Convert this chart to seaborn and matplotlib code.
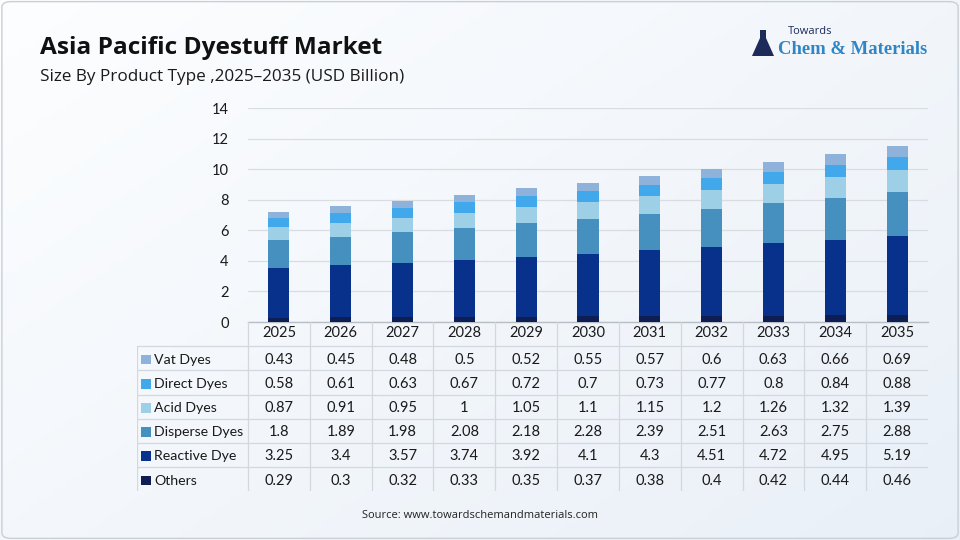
import numpy as np
import pandas as pd
import matplotlib
matplotlib.use("Agg")
import matplotlib.pyplot as plt
import seaborn as sns
from matplotlib.patches import Rectangle, FancyBboxPatch, Polygon

years = ["2025", "2026", "2027", "2028", "2029", "2030", "2031", "2032", "2033", "2034", "2035"]
others = [0.29, 0.3, 0.32, 0.33, 0.35, 0.37, 0.38, 0.4, 0.42, 0.44, 0.46]
reactive = [3.25, 3.4, 3.57, 3.74, 3.92, 4.1, 4.3, 4.51, 4.72, 4.95, 5.19]
disperse = [1.8, 1.89, 1.98, 2.08, 2.18, 2.28, 2.39, 2.51, 2.63, 2.75, 2.88]
acid = [0.87, 0.91, 0.95, 1, 1.05, 1.1, 1.15, 1.2, 1.26, 1.32, 1.39]
direct = [0.58, 0.61, 0.63, 0.67, 0.72, 0.7, 0.73, 0.77, 0.8, 0.84, 0.88]
vat = [0.43, 0.45, 0.48, 0.5, 0.52, 0.55, 0.57, 0.6, 0.63, 0.66, 0.69]

# stacking order, bottom to top
series = ["Others", "Reactive Dye", "Disperse Dyes", "Acid Dyes", "Direct Dyes", "Vat Dyes"]
values = [others, reactive, disperse, acid, direct, vat]
colors = ["#0e1d52", "#07318a", "#4690bf", "#9dd0e7", "#41a8ec", "#8fb2da"]

df = pd.DataFrame({"year": years})
for name, vals in zip(series, values):
    df[name] = vals

W, H = 960, 540
sns.set_theme(style="white")
plt.rcParams["font.family"] = ["Lato", "DejaVu Sans"]

fig = plt.figure(figsize=(W / 100, H / 100), dpi=100)

# soft background gradient
bg = fig.add_axes([0, 0, 1, 1], zorder=-10)
gx = np.linspace(0, 1, 200)
gy = np.linspace(0, 1, 120)
GX, GY = np.meshgrid(gx, gy)
t = np.clip(0.55 * GX + 0.45 * GY, 0, 1)
c0 = np.array([0.99, 0.995, 1.0])
c1 = np.array([0.915, 0.94, 0.97])
img = c0[None, None, :] * (1 - t[..., None]) + c1[None, None, :] * t[..., None]
bg.imshow(img, extent=[0, 1, 0, 1], aspect="auto", origin="upper")
bg.add_patch(FancyBboxPatch((0.002, 0.003), 0.996, 0.994, boxstyle="round,pad=0,rounding_size=0.01",
                            fill=False, ec="#c9cfd6", lw=1.0, transform=bg.transAxes))
bg.set_xlim(0, 1)
bg.set_ylim(0, 1)
bg.axis("off")

# bar chart area
x0, x1 = 248, 928
y_top, y_base = 108, 322
ax = fig.add_axes([x0 / W, 1 - y_base / H, (x1 - x0) / W, (y_base - y_top) / H])
ax.set_facecolor("none")
bottom = np.zeros(len(years))
for name, col in zip(series, colors):
    sns.barplot(data=df, x="year", y=name, order=years, color=col, width=0.34,
                bottom=bottom, ax=ax, saturation=1, linewidth=0, zorder=3)
    bottom = bottom + df[name].to_numpy()

ax.set_xlim(-0.5, len(years) - 0.5)
ax.set_ylim(0, 14)
ax.set_yticks(range(0, 15, 2))
ax.yaxis.grid(True, color="#d9dde2", lw=0.9, zorder=0)
ax.set_axisbelow(True)
ax.set_xlabel("")
ax.set_ylabel("")
ax.set_xticklabels([])
ax.tick_params(axis="x", length=0)
ax.tick_params(axis="y", length=0, labelsize=10.5, colors="#1a1a1a", pad=14)
for s in ["top", "right", "left"]:
    ax.spines[s].set_visible(False)
ax.spines["bottom"].set_color("#b8bec6")
ax.spines["bottom"].set_linewidth(1.0)

# data table under the chart
col_w = (x1 - x0) / len(years)
label_w = (x0 - 137) / col_w
row_h = 24.2
n_rows = len(series) + 1
tab_top = y_base
tab_bot = tab_top + row_h * n_rows
tax = fig.add_axes([137 / W, 1 - tab_bot / H, (x1 - 137) / W, (tab_bot - tab_top) / H])
tax.set_xlim(-0.5 - label_w, len(years) - 0.5)
tax.set_ylim(n_rows, 0)
tax.axis("off")
grid_c = "#d3d8de"
text_c = "#1a1a1a"

# vertical lines
for i in range(len(years)):
    tax.plot([i - 0.5, i - 0.5], [0, n_rows], color=grid_c, lw=0.9)
tax.plot([-0.5 - label_w, -0.5 - label_w], [1, n_rows], color=grid_c, lw=0.9)
# horizontal lines
for r in range(1, n_rows):
    tax.plot([-0.5 - label_w, len(years) - 0.5], [r, r], color=grid_c, lw=0.9)

for i, yr in enumerate(years):
    tax.text(i, 0.45, yr, ha="center", va="center", fontsize=10.5, color=text_c)

table_rows = list(zip(series, values, colors))[::-1]
sq = 0.15
for r, (name, vals, col) in enumerate(table_rows, start=1):
    lx = -0.5 - label_w + 0.07
    tax.add_patch(Rectangle((lx, r + 0.55 - 0.2), sq, 0.4, color=col, lw=0))
    tax.text(lx + sq + 0.06, r + 0.55, name, ha="left", va="center", fontsize=10.2, color=text_c)
    for i, v in enumerate(vals):
        tax.text(i, r + 0.55, f"{v:g}", ha="center", va="center", fontsize=10.5, color=text_c)

# titles
fig.text(40 / W, 1 - 48 / H, "Asia Pacific Dyestuff Market", fontsize=17.6, fontweight="bold",
         family=["Open Sans", "DejaVu Sans"], color="#111111", va="center")
fig.text(40 / W, 1 - 77 / H, "Size By Product Type ,2025\u20132035 (USD Billion)", fontsize=12.3,
         family=["Open Sans", "DejaVu Sans"], color="#1a1a1a", va="center")
fig.text(0.5, 1 - 516 / H, "Source: www.towardschemandmaterials.com", fontsize=8,
         family=["Open Sans", "DejaVu Sans"], color="#222222", ha="center", va="center")

# logo
fig.text(788 / W, 1 - 32 / H, "Towards", fontsize=8, color="#1c2b5a",
         family=["Open Sans", "DejaVu Sans"], va="center")
fig.text(778 / W, 1 - 50 / H, "Chem & Materials", fontsize=13.4, fontweight="bold", color="#2f86c6",
         family=["Liberation Serif", "DejaVu Serif"], va="center")
flask = Polygon([[760 / W, 1 - 30 / H], [766 / W, 1 - 30 / H], [766 / W, 1 - 38 / H],
                 [774 / W, 1 - 56 / H], [752 / W, 1 - 56 / H], [760 / W, 1 - 38 / H]],
                closed=True, transform=fig.transFigure, color="#1c2b5a", lw=0)
fig.patches.append(flask)

fig.savefig("out.png", dpi=100)
